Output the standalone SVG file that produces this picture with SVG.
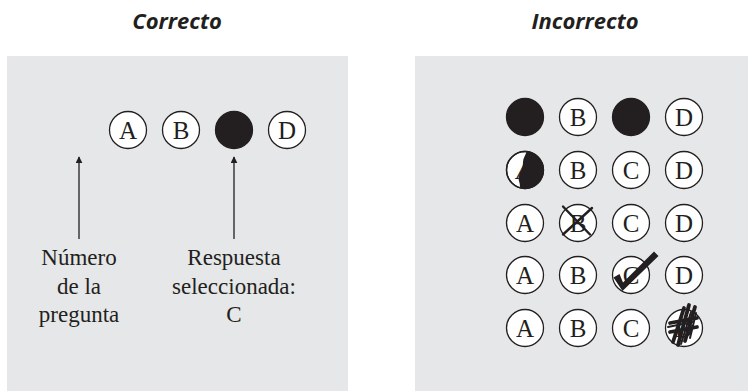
<svg xmlns="http://www.w3.org/2000/svg" width="748" height="391" viewBox="0 0 748 391">
<defs>
<style>
.panel{fill:#e6e7e8}
.title{font-family:"Open Sans","Liberation Sans",sans-serif;font-weight:bold;font-style:italic;font-size:22px;fill:#231f20;text-anchor:middle}
.b{fill:#fff;stroke:#231f20;stroke-width:1.3}
.f{fill:#231f20;stroke:#231f20;stroke-width:1.3}
.l{font-family:"Liberation Serif","Times New Roman",serif;font-size:25px;fill:#231f20;text-anchor:middle}
.lab{font-family:"Liberation Serif","Times New Roman",serif;font-size:23px;fill:#231f20;text-anchor:middle}
.arr{stroke:#3a3a3a;stroke-width:1.5;fill:none}
.mk{stroke:#231f20;fill:none;stroke-linecap:round}
</style>
<marker id="ah" viewBox="0 0 10 10" refX="9" refY="5" markerWidth="7" markerHeight="7" markerUnits="userSpaceOnUse" orient="auto">
<path d="M0,0 L10,5 L0,10 z" fill="#231f20"/>
</marker>
<clipPath id="cA"><circle cx="525" cy="170" r="18.5"/></clipPath>
</defs>

<rect class="panel" x="7" y="56" width="341" height="335"/>
<rect class="panel" x="415" y="56" width="333" height="335"/>

<text class="title" x="177" y="29">Correcto</text>
<text class="title" x="585" y="29">Incorrecto</text>

<!-- Correcto row -->
<g id="c-a"><circle class="b" cx="128" cy="130" r="18.5"/><text class="l" x="128" y="138.5">A</text></g>
<g id="c-b"><circle class="b" cx="181" cy="130" r="18.5"/><text class="l" x="181" y="138.5">B</text></g>
<g id="c-c"><circle class="f" cx="234" cy="130" r="18.5"/></g>
<g id="c-d"><circle class="b" cx="287" cy="130" r="18.5"/><text class="l" x="287" y="138.5">D</text></g>

<g id="label-numero"><text class="lab" x="79" y="265">Número</text><text class="lab" x="79" y="294">de la</text><text class="lab" x="79" y="322">pregunta</text></g>
<g id="label-respuesta"><text class="lab" x="234" y="265">Respuesta</text><text class="lab" x="234" y="294">seleccionada:</text><text class="lab" x="234" y="322">C</text></g>

<g id="connectors">
<line class="arr" x1="79" y1="239" x2="79" y2="157" marker-end="url(#ah)"/>
<line class="arr" x1="234" y1="239" x2="234" y2="157" marker-end="url(#ah)"/>
</g>

<!-- Row 1 -->
<g id="r1-a"><circle class="f" cx="525" cy="117" r="18.5"/></g>
<g id="r1-b"><circle class="b" cx="578" cy="117" r="18.5"/><text class="l" x="578" y="125.5">B</text></g>
<g id="r1-c"><circle class="f" cx="631" cy="117" r="18.5"/></g>
<g id="r1-d"><circle class="b" cx="684" cy="117" r="18.5"/><text class="l" x="684" y="125.5">D</text></g>

<!-- Row 2 -->
<g id="r2-a"><circle class="b" cx="525" cy="170" r="18.5"/><text class="l" x="524" y="178.5" font-style="italic">A</text>
<path clip-path="url(#cA)" fill="#231f20" d="M527,150 C526,155 523,158 523,162 C523,166 522,168 521,171 C519,175 518,178 519,181 C520,184 520,186 520,190 L546,190 L546,150 Z"/>
<circle cx="525" cy="170" r="18.5" fill="none" stroke="#231f20" stroke-width="1.3"/></g>
<g id="r2-b"><circle class="b" cx="578" cy="170" r="18.5"/><text class="l" x="578" y="178.5">B</text></g>
<g id="r2-c"><circle class="b" cx="631" cy="170" r="18.5"/><text class="l" x="631" y="178.5">C</text></g>
<g id="r2-d"><circle class="b" cx="684" cy="170" r="18.5"/><text class="l" x="684" y="178.5">D</text></g>

<!-- Row 3 -->
<g id="r3-a"><circle class="b" cx="525" cy="223" r="18.5"/><text class="l" x="525" y="231.5">A</text></g>
<g id="r3-b"><circle class="b" cx="578" cy="223" r="18.5"/><text class="l" x="578" y="231.5">B</text>
<path class="mk" stroke-width="2.4" d="M563,206.5 L590,234.5 M592,208 L563,234.5"/></g>
<g id="r3-c"><circle class="b" cx="631" cy="223" r="18.5"/><text class="l" x="631" y="231.5">C</text></g>
<g id="r3-d"><circle class="b" cx="684" cy="223" r="18.5"/><text class="l" x="684" y="231.5">D</text></g>

<!-- Row 4 -->
<g id="r4-a"><circle class="b" cx="525" cy="275" r="18.5"/><text class="l" x="525" y="283.5">A</text></g>
<g id="r4-b"><circle class="b" cx="578" cy="275" r="18.5"/><text class="l" x="578" y="283.5">B</text></g>
<g id="r4-c"><circle class="b" cx="631" cy="275" r="18.5"/><text class="l" x="631" y="283.5">C</text>
<path fill="#231f20" d="M613.5,277.5 L619.5,274 L623,282.5 L654,251.5 L658.5,256 L622.5,291 Z"/></g>
<g id="r4-d"><circle class="b" cx="684" cy="275" r="18.5"/><text class="l" x="684" y="283.5">D</text></g>

<!-- Row 5 -->
<g id="r5-a"><circle class="b" cx="525" cy="328" r="18.5"/><text class="l" x="525" y="336.5">A</text></g>
<g id="r5-b"><circle class="b" cx="578" cy="328" r="18.5"/><text class="l" x="578" y="336.5">B</text></g>
<g id="r5-c"><circle class="b" cx="631" cy="328" r="18.5"/><text class="l" x="631" y="336.5">C</text></g>
<g id="r5-d"><circle class="b" cx="684" cy="328" r="18.5"/><text class="l" x="684" y="336.5">D</text>
<path class="mk" stroke-width="3.8" d="M673,342 L684,308 M678,345 L689,305 M685,341 L695,307 M670,323 L697,318 M670,332 L697,327"/>
<path class="mk" stroke-width="2" d="M675,338 L682,316 M690,338 L696,313 M668,327 L692,322 M681,344 L691,312"/></g>
</svg>
